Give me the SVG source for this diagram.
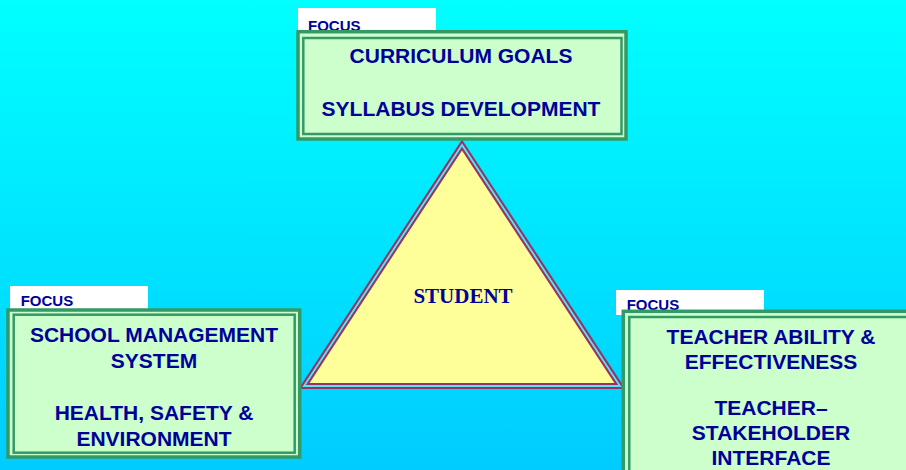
<svg xmlns="http://www.w3.org/2000/svg" width="906" height="470" viewBox="0 0 906 470">
  <defs>
    <linearGradient id="bg" x1="0" y1="0" x2="0" y2="1">
      <stop offset="0" stop-color="#00FFFF"/>
      <stop offset="1" stop-color="#00CCFF"/>
    </linearGradient>
  </defs>
  <style>
    .outer { fill: #CCFFCC; stroke: #339966; stroke-width: 3.5; }
    .inner { fill: none; stroke: #339966; stroke-width: 2.5; }
    .tag { fill: #FFFFFF; }
    .focus { font-family: "Liberation Sans", Arial, sans-serif; font-weight: bold; font-size: 15px; fill: #000099; }
    .lbl { font-family: "Liberation Sans", Arial, sans-serif; font-weight: bold; font-size: 21px; fill: #000099; text-anchor: middle; }
    .stu { font-family: "Liberation Serif", "Times New Roman", serif; font-weight: bold; font-size: 21px; fill: #000099; text-anchor: middle; }
  </style>
  <rect x="0" y="0" width="906" height="470" fill="url(#bg)"/>

  <g id="student">
    <polygon points="462,145 304,386 620,386" fill="#FFFF99" stroke="#993366" stroke-width="6"/>
    <polygon points="462,145 304,386 620,386" fill="none" stroke="#55E6F5" stroke-width="1.8"/>
    <text class="stu" x="463" y="303">STUDENT</text>
  </g>

  <g id="curriculum">
    <rect class="tag" x="298" y="8" width="138" height="25"/>
    <text class="focus" x="308" y="31">FOCUS</text>
    <rect class="outer" x="298" y="31.7" width="328" height="107.3"/>
    <rect class="inner" x="303.3" y="38" width="318.2" height="96"/>
    <text class="lbl" x="461" y="63">CURRICULUM GOALS</text>
    <text class="lbl" x="461" y="116">SYLLABUS DEVELOPMENT</text>
  </g>

  <g id="school">
    <rect class="tag" x="10" y="286" width="138" height="25"/>
    <text class="focus" x="20.7" y="306">FOCUS</text>
    <rect class="outer" x="8" y="310" width="291.7" height="147"/>
    <rect class="inner" x="13.7" y="314.7" width="281" height="138"/>
    <text class="lbl" x="154" y="342">SCHOOL MANAGEMENT</text>
    <text class="lbl" x="154" y="368">SYSTEM</text>
    <text class="lbl" x="154" y="420">HEALTH, SAFETY &amp;</text>
    <text class="lbl" x="154" y="446">ENVIRONMENT</text>
  </g>

  <g id="teacher">
    <rect class="tag" x="616" y="290" width="148" height="25"/>
    <text class="focus" x="626.7" y="310">FOCUS</text>
    <rect class="outer" x="623.3" y="311.3" width="300" height="200"/>
    <rect class="inner" x="629.3" y="317" width="288" height="190"/>
    <text class="lbl" x="771" y="344">TEACHER ABILITY &amp;</text>
    <text class="lbl" x="771" y="369">EFFECTIVENESS</text>
    <text class="lbl" x="771" y="415">TEACHER–</text>
    <text class="lbl" x="771" y="440">STAKEHOLDER</text>
    <text class="lbl" x="771" y="465">INTERFACE</text>
  </g>

  <g id="connectors"></g>
</svg>
